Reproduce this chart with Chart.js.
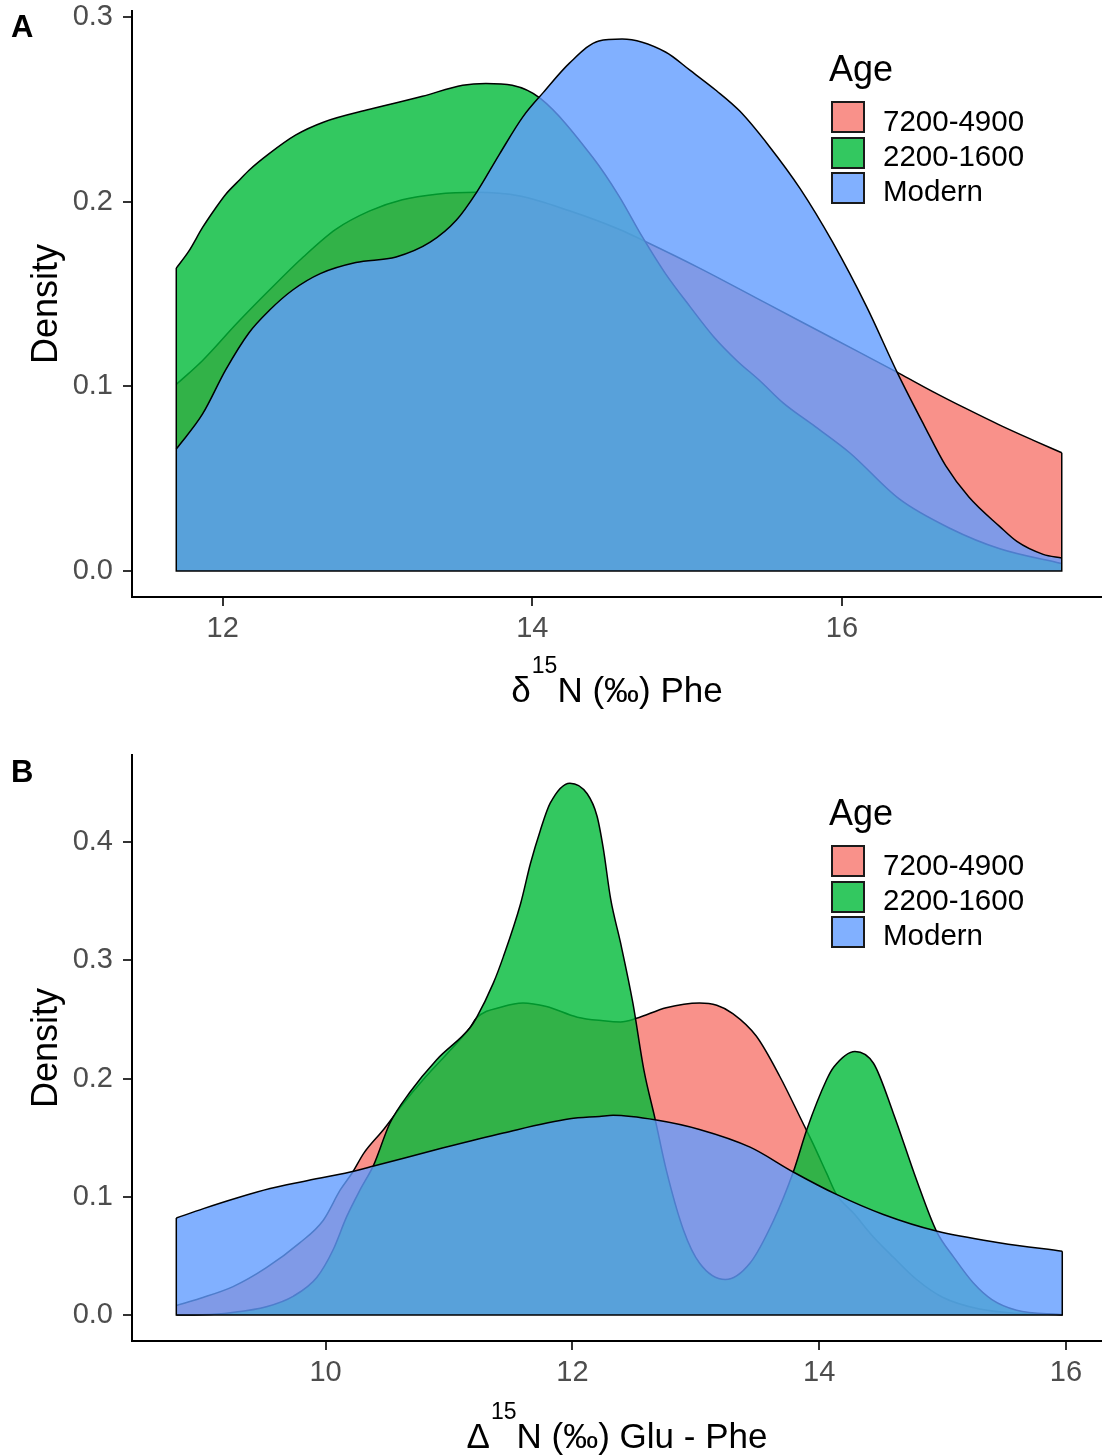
<!DOCTYPE html>
<html>
<head>
<meta charset="utf-8">
<script src="https://cdn.jsdelivr.net/npm/chart.js@4.4.1/dist/chart.umd.min.js"></script>
<style>
html,body{margin:0;padding:0;background:#fff;}
body{width:1102px;height:1456px;position:relative;overflow:hidden;font-family:"Liberation Sans",Arial,sans-serif;}
.panel{position:absolute;left:0;width:1102px;}
.panel canvas{position:absolute;left:0;top:0;}
.tag{position:absolute;left:11px;font-weight:bold;font-size:31px;line-height:31px;color:#000;}
.ltitle{position:absolute;left:829px;top:51px;font-size:36px;line-height:36px;color:#000;}
.key{position:absolute;left:831px;width:34px;height:32px;box-sizing:border-box;border:2px solid #1a1a1a;}
.klab{position:absolute;left:883px;font-size:29.5px;line-height:29px;color:#000;white-space:nowrap;}
.xtitle{position:absolute;left:132px;width:970px;text-align:center;font-size:35px;line-height:35px;color:#000;white-space:nowrap;}
.xtitle .sup{font-size:23px;position:relative;top:-29px;margin-left:1px;}
</style>
</head>
<body>
<div class="panel" id="panelA" style="top:0;height:744px;">
  <canvas id="chartA" width="1102" height="744"></canvas>
  <div class="tag" style="top:11px;">A</div>
  <div class="xtitle" style="top:672px;">δ<span class="sup">15</span>N (‰) Phe</div>
  <div class="legend" id="legendA"></div>
</div>
<div class="panel" id="panelB" style="top:744px;height:712px;">
  <canvas id="chartB" width="1102" height="712"></canvas>
  <div class="tag" style="top:12px;">B</div>
  <div class="xtitle" style="top:674px;">Δ<span class="sup">15</span>N (‰) Glu - Phe</div>
  <div class="legend" id="legendB"></div>
</div>
<script>
// ---------- categories ----------
const ageGroups = ['7200-4900', '2200-1600', 'Modern'];
const legendTitle = 'Age';

// ---------- Panel A: δ15N Phe densities ----------
const pheRedX = [11.70, 11.87, 12.09, 12.30, 12.52, 12.73, 12.95, 13.16, 13.38, 13.64, 13.92, 14.24, 14.56, 14.74, 15.08, 15.51, 15.94, 16.37, 16.59, 16.80, 17.02, 17.23, 17.42];
const pheRedY = [0.101, 0.114, 0.134, 0.152, 0.170, 0.185, 0.195, 0.201, 0.204, 0.205, 0.203, 0.195, 0.185, 0.178, 0.164, 0.145, 0.126, 0.107, 0.097, 0.088, 0.079, 0.071, 0.064];

const pheGreenX = [11.70, 11.78, 11.87, 11.95, 12.02, 12.10, 12.17, 12.30, 12.47, 12.65, 12.95, 13.29, 13.55, 13.70, 13.87, 14.05, 14.39, 14.56, 14.71, 14.86, 15.02, 15.17, 15.32, 15.47, 15.62, 15.83, 16.05, 16.37, 16.70, 17.02, 17.42];
const pheGreenY = [0.164, 0.173, 0.186, 0.196, 0.204, 0.211, 0.217, 0.226, 0.236, 0.243, 0.250, 0.257, 0.263, 0.264, 0.263, 0.256, 0.224, 0.203, 0.181, 0.161, 0.143, 0.127, 0.114, 0.103, 0.091, 0.078, 0.064, 0.039, 0.023, 0.012, 0.004];

const pheBlueX = [11.70, 11.87, 12.02, 12.17, 12.30, 12.45, 12.63, 12.86, 13.12, 13.34, 13.51, 13.64, 13.79, 13.94, 14.07, 14.24, 14.43, 14.58, 14.86, 15.02, 15.19, 15.34, 15.53, 15.73, 15.94, 16.16, 16.36, 16.53, 16.67, 16.82, 17.02, 17.13, 17.30, 17.42];
const pheBlueY = [0.066, 0.085, 0.109, 0.129, 0.141, 0.152, 0.161, 0.167, 0.170, 0.178, 0.190, 0.205, 0.226, 0.246, 0.259, 0.275, 0.287, 0.288, 0.281, 0.271, 0.260, 0.249, 0.230, 0.207, 0.178, 0.143, 0.107, 0.079, 0.057, 0.040, 0.024, 0.016, 0.009, 0.007];

const pheXTicks = [12, 14, 16];
const pheYTicks = [0.0, 0.1, 0.2, 0.3];

// ---------- Panel B: Δ15N Glu - Phe densities ----------
const gluRedX = [8.79, 8.98, 9.25, 9.52, 9.79, 9.98, 10.12, 10.22, 10.31, 10.47, 10.63, 10.79, 11.01, 11.17, 11.22, 11.44, 11.60, 11.79, 12.04, 12.25, 12.39, 12.52, 12.76, 13.03, 13.17, 13.30, 13.49, 13.68, 13.87, 13.95, 14.06, 14.14, 14.28, 14.44, 14.60, 14.79, 15.00, 15.30, 15.60, 15.97];
const gluRedY = [0.008, 0.014, 0.024, 0.040, 0.061, 0.080, 0.106, 0.121, 0.137, 0.157, 0.179, 0.199, 0.224, 0.243, 0.251, 0.261, 0.264, 0.261, 0.252, 0.249, 0.248, 0.251, 0.260, 0.264, 0.262, 0.255, 0.236, 0.202, 0.162, 0.145, 0.120, 0.102, 0.086, 0.066, 0.049, 0.030, 0.015, 0.005, 0.0015, 0.0003];

const gluGreenX = [8.79, 9.00, 9.23, 9.52, 9.74, 9.93, 10.06, 10.17, 10.28, 10.39, 10.52, 10.68, 10.90, 11.17, 11.22, 11.36, 11.44, 11.58, 11.66, 11.74, 11.82, 11.98, 12.12, 12.20, 12.25, 12.31, 12.39, 12.49, 12.58, 12.67, 12.76, 12.90, 13.03, 13.24, 13.44, 13.63, 13.79, 13.90, 14.06, 14.12, 14.29, 14.44, 14.60, 14.79, 14.95, 15.09, 15.25, 15.40, 15.60, 15.97];
const gluGreenY = [0.0, 0.0003, 0.002, 0.007, 0.016, 0.032, 0.055, 0.083, 0.106, 0.127, 0.162, 0.188, 0.216, 0.243, 0.251, 0.281, 0.303, 0.348, 0.382, 0.410, 0.433, 0.450, 0.441, 0.422, 0.395, 0.352, 0.315, 0.264, 0.207, 0.166, 0.123, 0.072, 0.044, 0.030, 0.044, 0.080, 0.121, 0.157, 0.199, 0.210, 0.223, 0.213, 0.171, 0.114, 0.071, 0.049, 0.027, 0.013, 0.004, 0.0003];

const gluBlueX = [8.79, 9.01, 9.28, 9.55, 9.82, 10.20, 10.39, 10.90, 11.44, 11.98, 12.22, 12.33, 12.68, 13.03, 13.44, 13.79, 14.14, 14.52, 14.95, 15.47, 15.97];
const gluBlueY = [0.082, 0.090, 0.099, 0.107, 0.113, 0.121, 0.126, 0.140, 0.154, 0.166, 0.168, 0.169, 0.165, 0.157, 0.142, 0.121, 0.102, 0.085, 0.071, 0.061, 0.054];

const gluXTicks = [10, 12, 14, 16];
const gluYTicks = [0.0, 0.1, 0.2, 0.3, 0.4];

// ---------- styling ----------
const fillColors = ['rgba(248,118,109,0.8)', 'rgba(0,186,56,0.8)', 'rgba(97,156,255,0.8)'];
const FONT = '"Liberation Sans", Arial, sans-serif';
Chart.defaults.font.family = FONT;

function buildLegend(id) {
  const el = document.getElementById(id);
  let html = '<div class="ltitle">' + legendTitle + '</div>';
  const keyTops = [101, 136.5, 172];
  const labTops = [106, 141, 176];
  ageGroups.forEach((g, i) => {
    html += '<div class="key" style="top:' + keyTops[i] + 'px;background:' + fillColors[i] + ';"></div>';
    html += '<div class="klab" style="top:' + labTops[i] + 'px;">' + g + '</div>';
  });
  el.innerHTML = html;
}

function makeChart(canvasId, xs, ys, xMin, xMax, yMin, yMax, xTicks, yTicks, bottomH) {
  const datasets = xs.map((xa, i) => ({
    label: ageGroups[i],
    data: xa.map((x, j) => ({x: x, y: ys[i][j]})),
    backgroundColor: fillColors[i],
    borderColor: '#000',
    borderWidth: 1.5,
    fill: 'origin',
    pointRadius: 0,
    cubicInterpolationMode: 'monotone',
    order: 3 - i
  }));
  // polygon sides + baseline (ggplot full outline)
  const x0 = Math.min(...xs.map(a => a[0]));
  const x1 = Math.max(...xs.map(a => a[a.length - 1]));
  const yStart = Math.max(...ys.map(a => a[0]));
  const yEnd = Math.max(...ys.map(a => a[a.length - 1]));
  datasets.push({
    label: 'outline',
    data: [{x: x0, y: yStart}, {x: x0, y: 0}, {x: x1, y: 0}, {x: x1, y: yEnd}],
    borderColor: '#000',
    borderWidth: 1.5,
    fill: false,
    pointRadius: 0,
    tension: 0,
    order: 0
  });
  return new Chart(document.getElementById(canvasId), {
    type: 'line',
    data: {datasets: datasets},
    options: {
      responsive: false,
      animation: false,
      events: [],
      layout: {padding: {top: 11, right: 0, bottom: 0, left: 0}},
      plugins: {legend: {display: false}, tooltip: {enabled: false}},
      scales: {
        x: {
          type: 'linear', min: xMin, max: xMax,
          afterBuildTicks: s => { s.ticks = xTicks.map(v => ({value: v})); },
          afterFit: s => { s.height = bottomH; s.paddingLeft = 0; s.paddingRight = 0; },
          ticks: {font: {size: 29}, color: '#4d4d4d', padding: 6, maxRotation: 0, autoSkip: false,
                  callback: v => String(v)},
          grid: {drawOnChartArea: false, drawTicks: true, tickLength: 9, color: '#333', lineWidth: 2},
          border: {display: true, color: '#000', width: 2}
        },
        y: {
          type: 'linear', min: yMin, max: yMax,
          afterBuildTicks: s => { s.ticks = yTicks.map(v => ({value: v})); },
          afterFit: s => { s.width = 132; s.paddingTop = 0; s.paddingBottom = 0; },
          ticks: {font: {size: 29}, color: '#4d4d4d', padding: 10, autoSkip: false,
                  callback: v => Number(v).toFixed(1)},
          grid: {drawOnChartArea: false, drawTicks: true, tickLength: 9, color: '#333', lineWidth: 2},
          border: {display: true, color: '#000', width: 2},
          title: {display: true, text: 'Density', color: '#000', font: {size: 36}, padding: {top: 25, bottom: 0}}
        }
      }
    }
  });
}

makeChart('chartA', [pheRedX, pheGreenX, pheBlueX], [pheRedY, pheGreenY, pheBlueY],
          11.414, 17.680, -0.0141, 0.3032, pheXTicks, pheYTicks, 147);
makeChart('chartB', [gluRedX, gluGreenX, gluBlueX], [gluRedY, gluGreenY, gluBlueY],
          8.431, 16.292, -0.022, 0.4738, gluXTicks, gluYTicks, 115);
buildLegend('legendA');
buildLegend('legendB');
</script>
</body>
</html>
